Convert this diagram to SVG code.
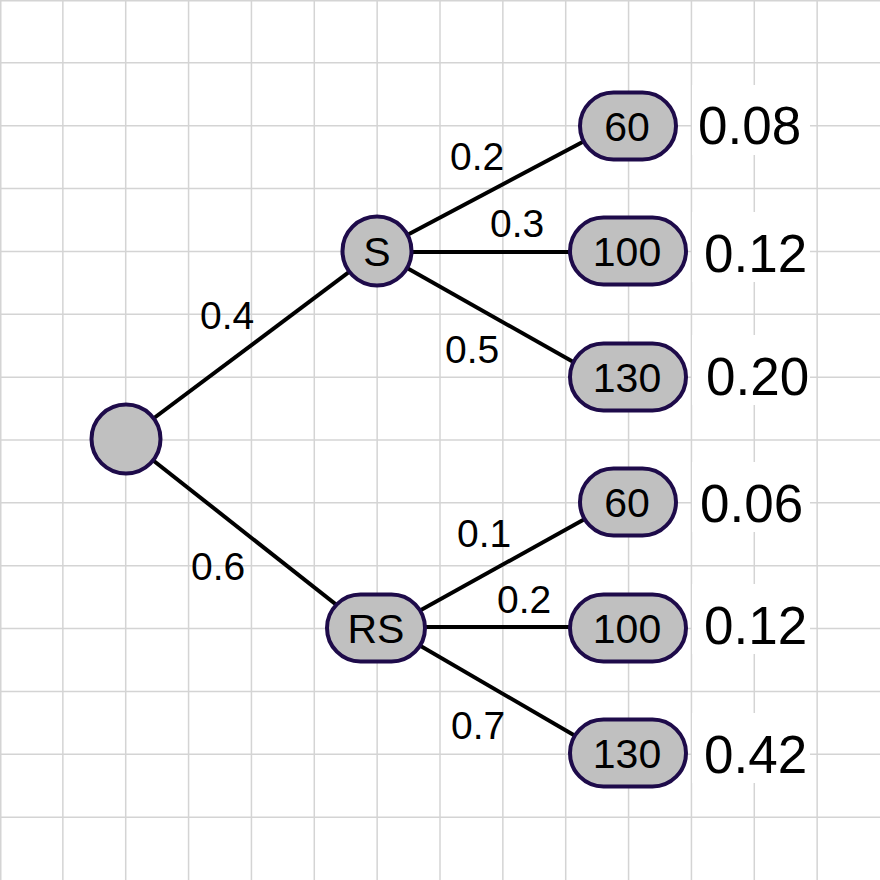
<svg xmlns="http://www.w3.org/2000/svg" width="880" height="880" viewBox="0 0 880 880">
<style>
.grid line{stroke:#d4d4d4;stroke-width:1.5}
.edge{stroke:#000;stroke-width:4;fill:none}
.node{fill:#c0c0c0;stroke:#1e0b4a;stroke-width:4}
.nl{font-family:"Liberation Sans",Arial,sans-serif;font-size:41px;text-anchor:middle;fill:#000}
.el{font-family:"Liberation Sans",Arial,sans-serif;font-size:39px;fill:#000}
.pl{font-family:"Liberation Sans",Arial,sans-serif;font-size:53px;fill:#000}
.bg{fill:#fff}
</style>
<rect width="880" height="880" fill="#fff"/>
<g class="grid">
<line x1="0.75" y1="0" x2="0.75" y2="880"/><line x1="62.86" y1="0" x2="62.86" y2="880"/><line x1="125.71" y1="0" x2="125.71" y2="880"/><line x1="188.57" y1="0" x2="188.57" y2="880"/><line x1="251.43" y1="0" x2="251.43" y2="880"/><line x1="314.29" y1="0" x2="314.29" y2="880"/><line x1="377.14" y1="0" x2="377.14" y2="880"/><line x1="440" y1="0" x2="440" y2="880"/><line x1="502.86" y1="0" x2="502.86" y2="880"/><line x1="565.71" y1="0" x2="565.71" y2="880"/><line x1="628.57" y1="0" x2="628.57" y2="880"/><line x1="691.43" y1="0" x2="691.43" y2="880"/><line x1="754.29" y1="0" x2="754.29" y2="880"/><line x1="817.14" y1="0" x2="817.14" y2="880"/>
<line y1="0.75" x1="0" y2="0.75" x2="880"/><line y1="62.86" x1="0" y2="62.86" x2="880"/><line y1="125.71" x1="0" y2="125.71" x2="880"/><line y1="188.57" x1="0" y2="188.57" x2="880"/><line y1="251.43" x1="0" y2="251.43" x2="880"/><line y1="314.29" x1="0" y2="314.29" x2="880"/><line y1="377.14" x1="0" y2="377.14" x2="880"/><line y1="440" x1="0" y2="440" x2="880"/><line y1="502.86" x1="0" y2="502.86" x2="880"/><line y1="565.71" x1="0" y2="565.71" x2="880"/><line y1="628.57" x1="0" y2="628.57" x2="880"/><line y1="691.43" x1="0" y2="691.43" x2="880"/><line y1="754.29" x1="0" y2="754.29" x2="880"/><line y1="817.14" x1="0" y2="817.14" x2="880"/>
</g>
<g id="connectors">
<line class="edge" x1="126" y1="439" x2="377" y2="251"/>
<line class="edge" x1="126" y1="439" x2="376" y2="636"/>
<line class="edge" x1="377" y1="251" x2="592" y2="137"/>
<line class="edge" x1="377" y1="252" x2="628" y2="252"/>
<line class="edge" x1="377" y1="251" x2="584" y2="368"/>
<line class="edge" x1="376" y1="635" x2="592" y2="515"/>
<line class="edge" x1="376" y1="627" x2="628" y2="627"/>
<line class="edge" x1="376" y1="620" x2="584" y2="741"/>
</g>
<g id="edge-labels">
<text class="el" x="450" y="170">0.2</text>
<text class="el" x="490" y="237">0.3</text>
<text class="el" x="445" y="363">0.5</text>
<text class="el" x="200" y="329">0.4</text>
<text class="el" x="191" y="580">0.6</text>
<text class="el" x="457" y="547">0.1</text>
<text class="el" x="497" y="613">0.2</text>
<text class="el" x="451" y="739">0.7</text>
</g>
<g id="root"><circle class="node" cx="126" cy="439" r="34.5"/></g>
<g id="S"><circle class="node" cx="377" cy="251" r="34.5"/><text class="nl" x="377" y="266">S</text></g>
<g id="RS"><rect class="node" x="327" y="594.5" width="98" height="67" rx="33.5"/><text class="nl" x="376" y="643">RS</text></g>
<g id="S60"><rect class="node" x="580" y="92.5" width="96" height="67" rx="33.5"/><text class="nl" x="627" y="141">60</text></g>
<g id="S100"><rect class="node" x="570" y="217.5" width="116" height="67" rx="33.5"/><text class="nl" x="627" y="266">100</text></g>
<g id="S130"><rect class="node" x="570" y="343.5" width="116" height="67" rx="33.5"/><text class="nl" x="627" y="392">130</text></g>
<g id="RS60"><rect class="node" x="580" y="468.5" width="96" height="67" rx="33.5"/><text class="nl" x="627" y="517">60</text></g>
<g id="RS100"><rect class="node" x="570" y="594.5" width="116" height="67" rx="33.5"/><text class="nl" x="627" y="643">100</text></g>
<g id="RS130"><rect class="node" x="570" y="719.5" width="116" height="67" rx="33.5"/><text class="nl" x="627" y="768">130</text></g>
<g id="probabilities">
<rect class="bg" x="692" y="85" width="118" height="70"/><text class="pl" x="698" y="144">0.08</text>
<rect class="bg" x="692" y="212" width="118" height="70"/><text class="pl" x="704" y="272">0.12</text>
<rect class="bg" x="692" y="335" width="118" height="70"/><text class="pl" x="706" y="395">0.20</text>
<rect class="bg" x="692" y="462" width="118" height="70"/><text class="pl" x="700" y="522">0.06</text>
<rect class="bg" x="692" y="584" width="118" height="70"/><text class="pl" x="704" y="644">0.12</text>
<rect class="bg" x="692" y="713" width="118" height="70"/><text class="pl" x="704" y="773">0.42</text>
</g>
</svg>
